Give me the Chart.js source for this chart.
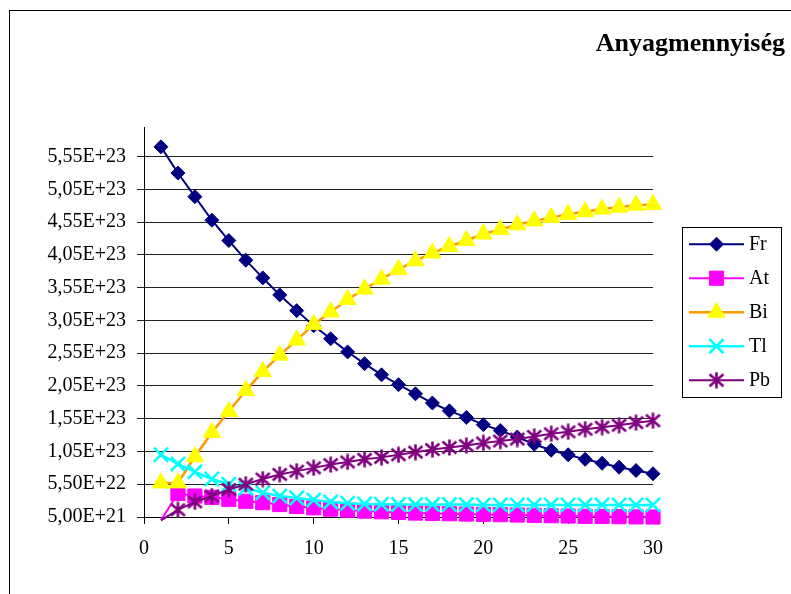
<!DOCTYPE html>
<html>
<head>
<meta charset="utf-8">
<script src="https://cdn.jsdelivr.net/npm/chart.js@4.4.1/dist/chart.umd.min.js"></script>
<style>
  html, body { margin: 0; padding: 0; background: #fff; overflow: hidden; width: 791px; height: 594px; }
  #frame { position: absolute; left: 9px; top: 10px; width: 1000px; height: 1000px; border: 1px solid #000; }
  #wrap { position: absolute; left: 0; top: 0; width: 791px; height: 594px; }
</style>
</head>
<body>
<div id="frame"></div>
<div id="wrap"><canvas id="c" width="791" height="594"></canvas></div>
<script>
// Time steps (x values)
const steps = [1, 2, 3, 4, 5, 6, 7, 8, 9, 10, 11, 12, 13, 14, 15,
               16, 17, 18, 19, 20, 21, 22, 23, 24, 25, 26, 27, 28, 29, 30];

// Amount of substance for each nuclide
const fr = [5.70e23, 5.30e23, 4.94e23, 4.58e23, 4.27e23, 3.97e23, 3.70e23, 3.44e23, 3.20e23, 2.97e23,
            2.77e23, 2.57e23, 2.39e23, 2.22e23, 2.07e23, 1.93e23, 1.79e23, 1.67e23, 1.57e23, 1.46e23,
            1.37e23, 1.27e23, 1.16e23, 1.07e23, 1.00e23, 0.93e23, 0.87e23, 0.81e23, 0.76e23, 0.71e23];
const at = [0, 0.41e23, 0.37e23, 0.35e23, 0.32e23, 0.29e23, 0.27e23, 0.24e23, 0.21e23, 0.19e23,
            0.17e23, 0.155e23, 0.14e23, 0.13e23, 0.12e23, 0.11e23, 0.105e23, 0.10e23, 0.095e23, 0.09e23,
            0.085e23, 0.08e23, 0.075e23, 0.07e23, 0.065e23, 0.06e23, 0.058e23, 0.055e23, 0.052e23, 0.05e23];
const bi = [0.57e23, 0.57e23, 0.97e23, 1.34e23, 1.66e23, 1.98e23, 2.27e23, 2.52e23, 2.75e23, 2.99e23,
            3.18e23, 3.37e23, 3.53e23, 3.68e23, 3.83e23, 3.96e23, 4.08e23, 4.18e23, 4.27e23, 4.37e23,
            4.44e23, 4.51e23, 4.57e23, 4.62e23, 4.67e23, 4.71e23, 4.75e23, 4.78e23, 4.81e23, 4.82e23];
const tl = [1.00e23, 0.86e23, 0.74e23, 0.63e23, 0.55e23, 0.49e23, 0.42e23, 0.37e23, 0.34e23, 0.31e23,
            0.28e23, 0.26e23, 0.25e23, 0.245e23, 0.24e23, 0.24e23, 0.24e23, 0.24e23, 0.24e23, 0.235e23,
            0.235e23, 0.235e23, 0.235e23, 0.235e23, 0.235e23, 0.235e23, 0.235e23, 0.235e23, 0.235e23, 0.235e23];
const pb = [0, 0.16e23, 0.28e23, 0.37e23, 0.47e23, 0.55e23, 0.63e23, 0.70e23, 0.75e23, 0.80e23,
            0.85e23, 0.89e23, 0.93e23, 0.96e23, 1.00e23, 1.04e23, 1.08e23, 1.11e23, 1.14e23, 1.18e23,
            1.21e23, 1.24e23, 1.28e23, 1.32e23, 1.35e23, 1.39e23, 1.42e23, 1.45e23, 1.49e23, 1.52e23];

const seriesNames = ['Fr', 'At', 'Bi', 'Tl', 'Pb'];

// Axis ticks
const xTickValues = [0, 5, 10, 15, 20, 25, 30];
const yTickValues = [5e21, 5.5e22, 1.05e23, 1.55e23, 2.05e23, 2.55e23, 3.05e23,
                     3.55e23, 4.05e23, 4.55e23, 5.05e23, 5.55e23];
const yTickLabels = ['5,00E+21', '5,50E+22', '1,05E+23', '1,55E+23', '2,05E+23', '2,55E+23', '3,05E+23',
                     '3,55E+23', '4,05E+23', '4,55E+23', '5,05E+23', '5,55E+23'];
const Y_MIN = 5e21;
const Y_MAX = 6e23;

const SERIF = '"Liberation Serif", "Times New Roman", serif';

// Asterisk marker (vertical bar plus an X)
function makeAsterisk(color) {
  const c = document.createElement('canvas');
  c.width = 17; c.height = 17;
  const g = c.getContext('2d');
  g.strokeStyle = color; g.lineWidth = 2.6; g.lineCap = 'butt';
  g.beginPath();
  g.moveTo(8.5, 0.5); g.lineTo(8.5, 16.5);
  g.moveTo(1.5, 2.5); g.lineTo(15.5, 14.5);
  g.moveTo(15.5, 2.5); g.lineTo(1.5, 14.5);
  g.stroke();
  return c;
}

function toPoints(vals) { return steps.map((x, i) => ({ x: x, y: vals[i] })); }

// Markers are not drawn for values that fall below the axis minimum
function radiusFor(r) {
  return ctx => (ctx.parsed && ctx.parsed.y < Y_MIN) ? 0 : r;
}

const common = { tension: 0, clip: false, pointHoverRadius: 0 };

const datasets = [
  Object.assign({}, common, {
    label: seriesNames[0], data: toPoints(fr), order: 5,
    borderColor: '#000080', borderWidth: 2,
    pointStyle: 'rectRot', pointRadius: radiusFor(7), legendRadius: 7,
    pointBackgroundColor: '#000080', pointBorderColor: '#000080', pointBorderWidth: 1
  }),
  Object.assign({}, common, {
    label: seriesNames[1], data: toPoints(at), order: 4,
    borderColor: '#FF00FF', borderWidth: 2,
    pointStyle: 'rect', pointRadius: radiusFor(10), legendRadius: 10,
    pointBackgroundColor: '#FF00FF', pointBorderColor: '#FF00FF', pointBorderWidth: 1
  }),
  Object.assign({}, common, {
    label: seriesNames[2], data: toPoints(bi), order: 3,
    borderColor: '#FF9900', borderWidth: 2.5,
    pointStyle: 'triangle', pointRadius: radiusFor(10), legendRadius: 10,
    pointBackgroundColor: '#FFFF00', pointBorderColor: '#FFFF00', pointBorderWidth: 1
  }),
  Object.assign({}, common, {
    label: seriesNames[3], data: toPoints(tl), order: 2,
    borderColor: '#00FFFF', borderWidth: 2.5,
    pointStyle: 'crossRot', pointRadius: radiusFor(10), legendRadius: 10,
    pointBackgroundColor: '#00FFFF', pointBorderColor: '#00FFFF', pointBorderWidth: 2.6
  }),
  Object.assign({}, common, {
    label: seriesNames[4], data: toPoints(pb), order: 1,
    borderColor: '#800080', borderWidth: 2,
    pointStyle: makeAsterisk('#800080'), pointRadius: radiusFor(8.5), legendRadius: 8.5,
    pointBackgroundColor: '#800080', pointBorderColor: '#800080', pointBorderWidth: 2
  })
];

// Legend box placed to the right of the plot, drawn with line + marker samples
const sideLegend = {
  position: 'right', weight: 10, fullSize: false, options: {},
  isHorizontal() { return false; },
  update(maxWidth, maxHeight) { this.width = 132; this.height = maxHeight; },
  getPadding() { return { top: 0, bottom: 0, left: 0, right: 0 }; },
  draw() {
    const chart = this.chart;
    const ctx = chart.ctx;
    const bx = this.left + 29, by = chart.chartArea.top + 100, bw = 99, bh = 170;
    ctx.save();
    ctx.strokeStyle = '#000';
    ctx.lineWidth = 1;
    ctx.strokeRect(Math.round(bx) + 0.5, Math.round(by) + 0.5, bw, bh);
    chart.data.datasets.forEach((ds, i) => {
      const y = by + 17 + i * 34;
      ctx.beginPath();
      ctx.strokeStyle = ds.borderColor;
      ctx.lineWidth = ds.borderWidth;
      ctx.moveTo(bx + 7, y);
      ctx.lineTo(bx + 62, y);
      ctx.stroke();
      ctx.fillStyle = ds.pointBackgroundColor;
      ctx.strokeStyle = ds.pointBorderColor;
      ctx.lineWidth = ds.pointBorderWidth;
      Chart.helpers.drawPoint(ctx, {
        pointStyle: ds.pointStyle, radius: ds.legendRadius, rotation: 0,
        borderWidth: ds.pointBorderWidth
      }, bx + 34.5, y);
      ctx.fillStyle = '#000';
      ctx.font = '20px ' + SERIF;
      ctx.textAlign = 'left';
      ctx.textBaseline = 'middle';
      ctx.fillText(ds.label, bx + 67, y + 1);
    });
    ctx.restore();
  }
};

const legendPlugin = {
  id: 'sideLegendBox',
  beforeInit(chart) {
    sideLegend.chart = chart;
    Chart.layouts.addBox(chart, sideLegend);
  }
};

new Chart(document.getElementById('c'), {
  type: 'line',
  data: { datasets: datasets },
  plugins: [legendPlugin],
  options: {
    responsive: false,
    animation: false,
    events: [],
    layout: { padding: { left: 0, right: 6, top: 0, bottom: 0 } },
    plugins: {
      legend: { display: false },
      tooltip: { enabled: false },
      title: {
        display: true,
        text: 'Anyagmennyiség',
        align: 'end',
        color: '#000',
        font: { family: SERIF, size: 26, weight: 'bold' },
        padding: { top: 29, bottom: 67 }
      }
    },
    scales: {
      x: {
        type: 'linear',
        min: 0, max: 30,
        afterBuildTicks(s) { s.ticks = xTickValues.map(v => ({ value: v })); },
        afterFit(s) { s.height = 77; },
        ticks: {
          color: '#000', padding: 13, maxRotation: 0,
          font: { family: SERIF, size: 20 },
          callback: v => String(v)
        },
        grid: { drawOnChartArea: false, drawTicks: true, tickLength: 7, color: '#000', lineWidth: 1 },
        border: { display: true, color: '#000', width: 1 }
      },
      y: {
        type: 'linear',
        min: Y_MIN, max: Y_MAX,
        afterBuildTicks(s) { s.ticks = yTickValues.map(v => ({ value: v })); },
        afterFit(s) { s.width = 144; },
        ticks: {
          color: '#000', padding: 11,
          font: { family: SERIF, size: 20 },
          callback: (v, i) => yTickLabels[i]
        },
        grid: { color: '#222', lineWidth: 1, drawTicks: true, tickLength: 7 },
        border: { display: true, color: '#000', width: 1 }
      }
    }
  }
});
</script>
</body>
</html>
